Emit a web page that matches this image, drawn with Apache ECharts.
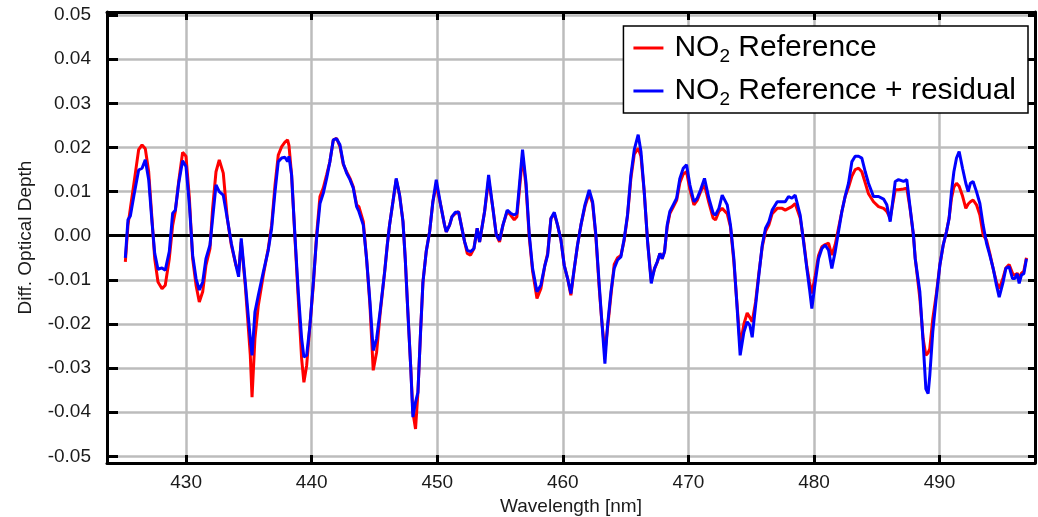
<!DOCTYPE html>
<html>
<head>
<meta charset="utf-8">
<title>NO2 differential optical depth</title>
<script src="https://cdn.jsdelivr.net/npm/echarts@6/dist/echarts.min.js"></script>
<style>
  html, body { margin: 0; padding: 0; background: #fff; }
  #chart { width: 1038px; height: 517px; }
</style>
</head>
<body>
<div id="chart"></div>
<script>
// Wavelength grid [nm]
const wavelength = [
  425.16, 425.37, 425.56, 425.90, 426.22, 426.49, 426.75, 427.02, 427.28, 427.50,
  427.76, 428.08, 428.34, 428.66, 428.93, 429.14, 429.41, 429.72, 429.99, 430.26,
  430.52, 430.79, 431.05, 431.32, 431.58, 431.90, 432.11, 432.38, 432.64, 432.96,
  433.28, 433.60, 433.97, 434.18, 434.39, 434.71, 435.11,
  435.25, 435.48, 435.75, 436.15, 436.54, 436.81, 437.08, 437.34, 437.61, 437.87,
  438.08, 438.19, 438.40, 438.67, 438.93, 439.20, 439.38, 439.60, 439.86, 440.13,
  440.39, 440.66, 440.92, 441.19, 441.45, 441.72, 441.98, 442.25, 442.52, 442.78,
  443.05, 443.31, 443.58, 443.76, 444.11, 444.37, 444.64, 444.90, 445.17, 445.44,
  445.81, 446.02, 446.20, 446.47, 446.73, 447.00, 447.27, 447.45, 447.66, 447.88,
  448.06, 448.27, 448.46, 448.67, 448.86, 449.12, 449.39, 449.65, 449.92, 450.27,
  450.58, 450.72, 450.98, 451.17, 451.43, 451.70, 451.91, 452.18, 452.39, 452.65,
  452.92, 453.18, 453.37, 453.50, 453.77, 454.09, 454.43, 454.70, 454.96, 455.23,
  455.57, 455.84, 456.13,
  456.34, 456.53, 456.79, 457.06, 457.33, 457.59, 457.94, 458.25, 458.57, 458.79,
  459.05, 459.32, 459.58, 459.85, 460.11, 460.38, 460.64, 460.91, 461.17, 461.44,
  461.76, 462.10, 462.37, 462.63, 462.90, 463.09, 463.35, 463.56, 463.83, 464.09,
  464.36, 464.62, 464.89, 465.15, 465.42, 465.69, 466.00, 466.22, 466.48, 466.75,
  467.04, 467.30, 467.52, 467.73, 467.91, 468.10, 468.31, 468.52, 468.79, 469.06,
  469.32, 469.59, 469.85, 470.12, 470.44, 470.70, 470.97, 471.28, 471.63, 471.97,
  472.16, 472.43, 472.69, 473.09, 473.35, 473.62, 473.83, 474.12, 474.42, 474.68,
  474.89, 475.08, 475.35, 475.61, 475.88, 476.14, 476.41, 476.67, 477.07, 477.47,
  477.71, 477.97, 478.24, 478.50, 478.64, 478.90, 479.17, 479.43, 479.64, 479.83,
  480.10, 480.36, 480.63, 480.89, 481.16, 481.42, 481.69, 481.95, 482.22, 482.48,
  482.75, 483.02, 483.28, 483.55, 483.81, 484.08, 484.34, 484.74, 485.14, 485.54,
  485.80, 486.07, 486.47, 486.73, 487.13, 487.39, 487.66, 487.92, 488.06,
  488.43, 488.69, 488.91, 489.09, 489.22, 489.46, 489.73, 490.02, 490.29, 490.55,
  490.76, 490.95, 491.14, 491.35, 491.56, 491.83, 492.09, 492.28, 492.46, 492.67,
  492.94, 493.21, 493.47, 493.74, 494.00, 494.27, 494.53, 494.75, 495.06, 495.28,
  495.54, 495.81, 495.99, 496.18, 496.34, 496.52, 496.71, 496.92
];

// NO2 reference differential optical depth
const no2Reference = [
  -0.0059, 0.0024, 0.0062, 0.0130, 0.0195, 0.0206, 0.0197, 0.0145, 0.0039, -0.0052,
  -0.0105, -0.0120, -0.0112, -0.0052, 0.0024, 0.0055, 0.0123, 0.0189, 0.0180, 0.0085,
  -0.0052, -0.0112, -0.0150, -0.0127, -0.0067, -0.0029, 0.0062, 0.0145, 0.0172, 0.0142,
  0.0039, -0.0021, -0.0067, -0.0082, -0.0014, -0.0112, -0.0270,
  -0.0366, -0.0233, -0.0158, -0.0089, -0.0029, 0.0024, 0.0115, 0.0183, 0.0202, 0.0212,
  0.0217, 0.0205, 0.0138, -0.0006, -0.0142, -0.0279, -0.0332, -0.0294, -0.0203, -0.0112,
  0.0002, 0.0089, 0.0108, 0.0138, 0.0168, 0.0217, 0.0221, 0.0202, 0.0161, 0.0145,
  0.0130, 0.0111, 0.0070, 0.0066, 0.0032, -0.0052, -0.0158, -0.0305, -0.0264, -0.0180,
  -0.0082, -0.0021, 0.0024, 0.0077, 0.0127, 0.0092, 0.0032, -0.0052, -0.0173, -0.0294,
  -0.0400, -0.0438, -0.0355, -0.0218, -0.0105, -0.0036, 0.0009, 0.0077, 0.0115, 0.0070,
  0.0024, 0.0009, 0.0024, 0.0043, 0.0050, 0.0055, 0.0024, -0.0014, -0.0040, -0.0044,
  -0.0029, 0.0017, -0.0014, -0.0017, 0.0055, 0.0127, 0.0062, 0.0002, -0.0014, 0.0024,
  0.0055, 0.0047, 0.0036,
  0.0043, 0.0100, 0.0180, 0.0115, -0.0005, -0.0080, -0.0142, -0.0120, -0.0067, -0.0040,
  0.0039, 0.0050, 0.0024, -0.0010, -0.0067, -0.0097, -0.0135, -0.0075, -0.0021, 0.0024,
  0.0066, 0.0096, 0.0073, -0.0002, -0.0120, -0.0190, -0.0264, -0.0210, -0.0135, -0.0065,
  -0.0050, -0.0045, -0.0010, 0.0045, 0.0130, 0.0185, 0.0198, 0.0180, 0.0100, -0.0014,
  -0.0101, -0.0075, -0.0060, -0.0040, -0.0052, -0.0036, 0.0020, 0.0050, 0.0065, 0.0080,
  0.0120, 0.0140, 0.0145, 0.0105, 0.0070, 0.0080, 0.0100, 0.0115, 0.0075, 0.0040,
  0.0036, 0.0055, 0.0062, 0.0050, 0.0020, -0.0060, -0.0140, -0.0248, -0.0200, -0.0175,
  -0.0185, -0.0195, -0.0150, -0.0085, -0.0025, 0.0010, 0.0025, 0.0050, 0.0062, 0.0062,
  0.0058, 0.0062, 0.0066, 0.0073, 0.0070, 0.0040, -0.0010, -0.0070, -0.0105, -0.0131,
  -0.0090, -0.0045, -0.0025, -0.0020, -0.0017, -0.0044, -0.0020, 0.0017, 0.0055, 0.0089,
  0.0110, 0.0135, 0.0150, 0.0153, 0.0145, 0.0120, 0.0095, 0.0077, 0.0066, 0.0062,
  0.0055, 0.0040, 0.0104, 0.0104, 0.0106, 0.0108, 0.0060, 0.0000, -0.0050,
  -0.0142, -0.0233, -0.0271, -0.0265, -0.0256, -0.0188, -0.0135, -0.0067, -0.0021, 0.0009,
  0.0040, 0.0085, 0.0110, 0.0119, 0.0112, 0.0090, 0.0062, 0.0072, 0.0077, 0.0081,
  0.0070, 0.0047, 0.0002, -0.0010, -0.0040, -0.0075, -0.0105, -0.0120, -0.0095, -0.0073,
  -0.0065, -0.0085, -0.0090, -0.0085, -0.0095, -0.0085, -0.0080, -0.0050
];

// NO2 reference with the fit residual added
const no2ReferenceResidual = [
  -0.0050, 0.0036, 0.0045, 0.0100, 0.0149, 0.0153, 0.0172, 0.0127, 0.0032, -0.0040,
  -0.0076, -0.0073, -0.0078, -0.0036, 0.0051, 0.0058, 0.0119, 0.0170, 0.0157, 0.0070,
  -0.0044, -0.0097, -0.0123, -0.0105, -0.0052, -0.0021, 0.0039, 0.0115, 0.0100, 0.0092,
  0.0039, -0.0017, -0.0067, -0.0093, -0.0006, -0.0105, -0.0233,
  -0.0271, -0.0173, -0.0135, -0.0082, -0.0033, 0.0017, 0.0100, 0.0168, 0.0176, 0.0178,
  0.0168, 0.0180, 0.0138, -0.0002, -0.0127, -0.0233, -0.0275, -0.0271, -0.0203, -0.0105,
  -0.0006, 0.0073, 0.0096, 0.0130, 0.0168, 0.0217, 0.0220, 0.0206, 0.0164, 0.0142,
  0.0127, 0.0108, 0.0066, 0.0055, 0.0024, -0.0052, -0.0150, -0.0260, -0.0233, -0.0173,
  -0.0082, -0.0021, 0.0024, 0.0077, 0.0130, 0.0092, 0.0032, -0.0052, -0.0173, -0.0294,
  -0.0411, -0.0377, -0.0355, -0.0218, -0.0105, -0.0036, 0.0009, 0.0077, 0.0127, 0.0070,
  0.0024, 0.0009, 0.0024, 0.0043, 0.0053, 0.0053, 0.0024, -0.0014, -0.0033, -0.0036,
  -0.0029, 0.0017, -0.0014, -0.0017, 0.0055, 0.0138, 0.0062, 0.0002, -0.0010, 0.0024,
  0.0058, 0.0051, 0.0047,
  0.0051, 0.0111, 0.0195, 0.0123, 0.0002, -0.0074, -0.0127, -0.0112, -0.0067, -0.0044,
  0.0039, 0.0053, 0.0024, -0.0010, -0.0067, -0.0097, -0.0131, -0.0074, -0.0021, 0.0024,
  0.0070, 0.0104, 0.0077, 0.0002, -0.0112, -0.0188, -0.0290, -0.0203, -0.0127, -0.0074,
  -0.0055, -0.0048, -0.0006, 0.0047, 0.0138, 0.0195, 0.0229, 0.0191, 0.0100, -0.0014,
  -0.0108, -0.0074, -0.0059, -0.0040, -0.0052, -0.0036, 0.0024, 0.0055, 0.0070, 0.0085,
  0.0130, 0.0153, 0.0161, 0.0115, 0.0077, 0.0085, 0.0104, 0.0130, 0.0085, 0.0051,
  0.0047, 0.0062, 0.0092, 0.0070, 0.0024, -0.0052, -0.0142, -0.0271, -0.0218, -0.0195,
  -0.0203, -0.0230, -0.0158, -0.0089, -0.0021, 0.0017, 0.0032, 0.0058, 0.0077, 0.0077,
  0.0077, 0.0089, 0.0085, 0.0092, 0.0096, 0.0047, -0.0014, -0.0074, -0.0120, -0.0165,
  -0.0105, -0.0052, -0.0029, -0.0021, -0.0033, -0.0074, -0.0036, 0.0009, 0.0055, 0.0089,
  0.0119, 0.0168, 0.0180, 0.0180, 0.0176, 0.0145, 0.0119, 0.0089, 0.0089, 0.0083,
  0.0070, 0.0032, 0.0123, 0.0127, 0.0123, 0.0127, 0.0062, 0.0002, -0.0052,
  -0.0127, -0.0241, -0.0347, -0.0358, -0.0317, -0.0218, -0.0142, -0.0067, -0.0021, 0.0009,
  0.0039, 0.0100, 0.0145, 0.0176, 0.0191, 0.0153, 0.0119, 0.0100, 0.0119, 0.0123,
  0.0100, 0.0073, 0.0024, -0.0017, -0.0044, -0.0074, -0.0112, -0.0139, -0.0105, -0.0074,
  -0.0070, -0.0097, -0.0097, -0.0086, -0.0108, -0.0089, -0.0086, -0.0052
];

// Axis tick positions
const xTickValues = [430, 440, 450, 460, 470, 480, 490];
const yTickValues = [-0.05, -0.04, -0.03, -0.02, -0.01, 0, 0.01, 0.02, 0.03, 0.04, 0.05];

const X_MIN = 423.7, X_MAX = 497.6;
const Y_MIN = -0.0515, Y_MAX = 0.0507;

const FONT = '"Liberation Sans", Arial, Helvetica, sans-serif';
const TEXT_COLOR = '#1a1a1a';
const FRAME = { color: '#000', width: 3 };
const GRID_LINE = { color: '#bcbcbc', width: 2.5 };

const pairs = (ys) => wavelength.map((x, i) => [x, ys[i]]);

const frameAxis = (extra) => Object.assign({
  type: 'value',
  axisLine: { show: true, onZero: false, lineStyle: FRAME },
  axisLabel: { show: false },
  splitLine: { show: false }
}, extra);

const chart = echarts.init(document.getElementById('chart'), null, { renderer: 'canvas' });

chart.setOption({
  animation: false,
  backgroundColor: '#fff',
  textStyle: { fontFamily: FONT },
  grid: { left: 107, right: 3, top: 12, bottom: 54, containLabel: false, outerBoundsMode: 'none' },
  legend: {
    orient: 'vertical',
    right: 10,
    top: 26,
    padding: [7, 12, 4, 10],
    itemGap: 10,
    itemWidth: 30,
    itemHeight: 3,
    icon: 'rect',
    backgroundColor: '#fff',
    borderColor: '#000',
    borderWidth: 1.5,
    borderRadius: 0,
    selectedMode: false,
    // "NO" + subscript 2 + rest of the name
    formatter: (name) => '{f|NO}{s|2}{t|' + name.slice(3) + '}',
    textStyle: {
      fontFamily: FONT,
      color: '#000',
      rich: {
        f: { fontSize: 30, fontFamily: FONT, color: '#000', padding: [0, 0, 0, 6] },
        t: { fontSize: 30, fontFamily: FONT, color: '#000' },
        s: { fontSize: 19, fontFamily: FONT, color: '#000', padding: [17, 0, 0, 0] }
      }
    },
    data: ['NO₂ Reference', 'NO₂ Reference + residual']
  },
  xAxis: [
    frameAxis({
      position: 'bottom',
      min: X_MIN,
      max: X_MAX,
      name: 'Wavelength [nm]',
      nameLocation: 'middle',
      nameGap: 33,
      nameTextStyle: { fontSize: 19, color: TEXT_COLOR, fontFamily: FONT },
      axisTick: { show: true, inside: true, length: 8, customValues: xTickValues, lineStyle: FRAME },
      axisLabel: {
        show: true, customValues: xTickValues, fontSize: 19, margin: 10,
        color: TEXT_COLOR, fontFamily: FONT, formatter: (v) => String(v)
      },
      splitLine: { show: true, lineStyle: GRID_LINE }
    }),
    frameAxis({
      position: 'top',
      min: X_MIN,
      max: X_MAX,
      axisTick: { show: true, inside: true, length: 8, customValues: xTickValues, lineStyle: FRAME },
      axisLabel: { show: false, customValues: xTickValues }
    })
  ],
  yAxis: [
    frameAxis({
      position: 'left',
      min: Y_MIN,
      max: Y_MAX,
      name: 'Diff. Optical Depth',
      nameLocation: 'middle',
      nameGap: 72,
      nameTextStyle: { fontSize: 19, color: TEXT_COLOR, fontFamily: FONT },
      axisTick: { show: true, inside: true, length: 11, customValues: yTickValues, lineStyle: FRAME },
      axisLabel: {
        show: true, customValues: yTickValues, fontSize: 19, margin: 16,
        color: TEXT_COLOR, fontFamily: FONT, formatter: (v) => v.toFixed(2)
      },
      splitLine: { show: true, lineStyle: GRID_LINE }
    }),
    frameAxis({
      position: 'right',
      min: Y_MIN,
      max: Y_MAX,
      axisTick: { show: true, inside: true, length: 7, customValues: yTickValues, lineStyle: FRAME },
      axisLabel: { show: false, customValues: yTickValues }
    })
  ],
  series: [
    {
      name: 'NO₂ Reference',
      type: 'line',
      xAxisIndex: 0,
      yAxisIndex: 0,
      data: pairs(no2Reference),
      symbol: 'none',
      z: 2,
      lineStyle: { color: '#ff0000', width: 3 },
      itemStyle: { color: '#ff0000' },
      emphasis: { disabled: true },
      markLine: {
        silent: true,
        symbol: 'none',
        z: 1,
        label: { show: false },
        lineStyle: { color: '#000', width: 3, type: 'solid' },
        emphasis: { disabled: true },
        data: [{ yAxis: 0 }]
      }
    },
    {
      name: 'NO₂ Reference + residual',
      type: 'line',
      xAxisIndex: 0,
      yAxisIndex: 0,
      data: pairs(no2ReferenceResidual),
      symbol: 'none',
      z: 3,
      lineStyle: { color: '#0000ff', width: 3 },
      itemStyle: { color: '#0000ff' },
      emphasis: { disabled: true }
    }
  ]
});
</script>
</body>
</html>
